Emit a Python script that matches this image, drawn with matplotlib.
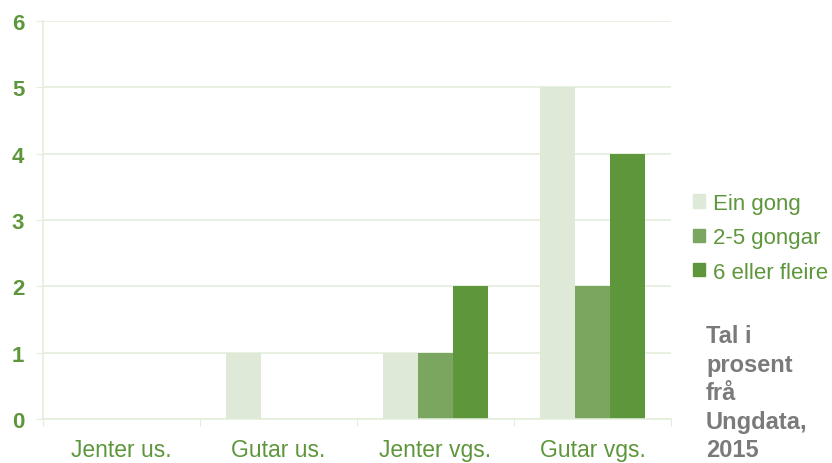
import numpy as np
import matplotlib.pyplot as plt
from matplotlib.patches import Patch

# Chart data.
categories = ["Jenter us.", "Gutar us.", "Jenter vgs.", "Gutar vgs."]
series_names = ["Ein gong", "2-5 gongar", "6 eller fleire"]
ein_gong = [0, 1, 1, 5]
to_fem_gongar = [0, 0, 1, 2]
seks_eller_fleire = [0, 0, 2, 4]
y_ticks = [0, 1, 2, 3, 4, 5, 6]

colors = ["#dfe9d8", "#7aa660", "#5e963c"]
text_green = "#5e963c"
grid_green = "#e3eddc"

plt.rcParams['font.family'] = ['Liberation Sans', 'DejaVu Sans']

fig = plt.figure(figsize=(8.32, 4.64), dpi=100)
ax = fig.add_axes([43 / 832, 44 / 464, 628 / 832, 398 / 464])

x = np.arange(len(categories))
width = 0.223
values = [ein_gong, to_fem_gongar, seks_eller_fleire]
for i, (vals, name) in enumerate(zip(values, series_names)):
    ax.bar(x + (i - 1) * width, vals, width, color=colors[i], label=name, zorder=2)

ax.set_xlim(-0.5, 3.5)
ax.set_ylim(0, 6)
ax.set_yticks(y_ticks)
ax.set_yticklabels([str(t) for t in y_ticks], fontsize=16, fontweight='bold', color=text_green)
ax.yaxis.grid(True, color=grid_green, linewidth=1.2, zorder=0)
ax.tick_params(axis='y', length=5, color=grid_green, pad=8.5)

# Category labels between boundary ticks.
ax.set_xticks(np.arange(-0.5, 4, 1))
ax.set_xticklabels([])
ax.set_xticks(x, minor=True)
ax.set_xticklabels(categories, minor=True, fontsize=16.5, color=text_green)
ax.tick_params(axis='x', which='major', length=5, color=grid_green)
ax.tick_params(axis='x', which='minor', length=0, pad=14)

for side in ['top', 'right']:
    ax.spines[side].set_visible(False)
for side in ['left', 'bottom']:
    ax.spines[side].set_color(grid_green)
    ax.spines[side].set_linewidth(1.2)

handles = [Patch(color=c) for c in colors]
fig.legend(handles, series_names, loc='upper left', bbox_to_anchor=(684 / 832, 1 - 185 / 464),
           frameon=False, fontsize=16, labelcolor=text_green, handlelength=0.55,
           handleheight=0.55, handletextpad=0.35, labelspacing=0.6, borderaxespad=0)

fig.text(706 / 832, 2 / 464, "Tal i\nprosent\nfrå\nUngdata,\n2015", fontsize=17,
         fontweight='bold', color='#7a7a7a', va='bottom', ha='left', linespacing=1.3)

fig.savefig("out.png", dpi=100)
